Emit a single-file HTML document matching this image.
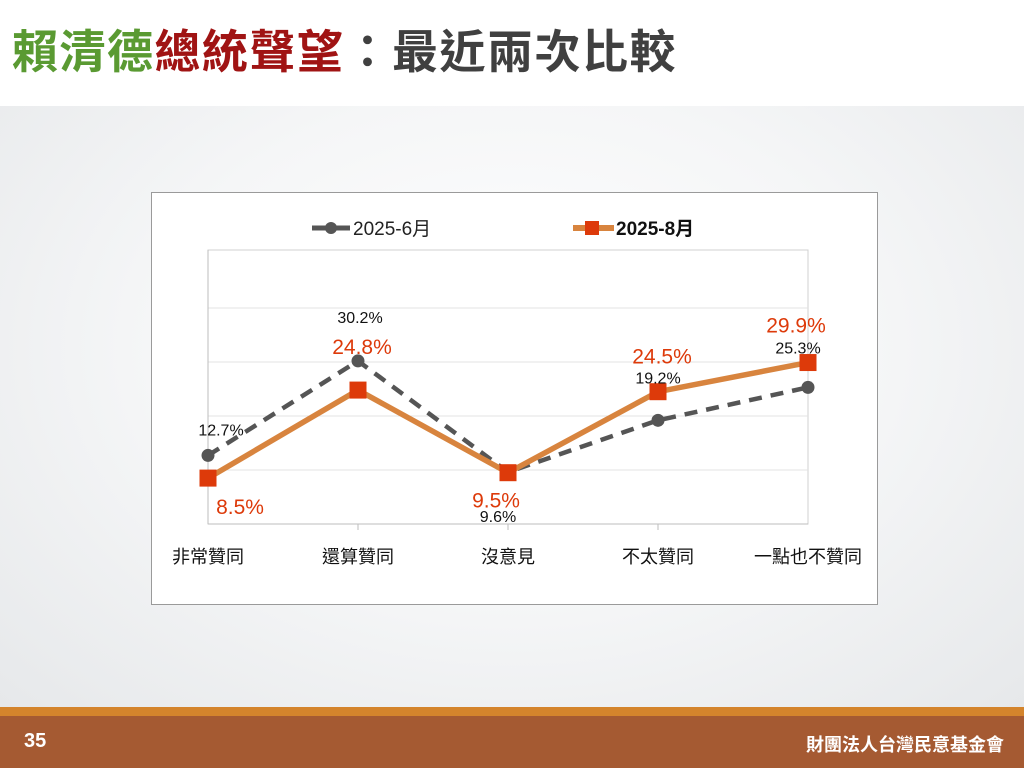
<!DOCTYPE html>
<html><head><meta charset="utf-8">
<style>
body{margin:0;width:1024px;height:768px;overflow:hidden;position:relative;background:#fff;font-family:"Liberation Sans","Noto Sans CJK TC",sans-serif}
#bg{position:absolute;left:0;top:106px;width:1024px;height:604px;background:radial-gradient(ellipse at 50% 40%,#ffffff 0%,#f5f6f7 50%,#e6e8ea 100%)}
#title{position:absolute;left:12px;top:22px;font-size:46px;font-weight:bold;letter-spacing:1.5px;white-space:nowrap;line-height:60px}
#foot1{position:absolute;left:0;top:707px;width:1024px;height:9px;background:#d4842c}
#foot2{position:absolute;left:0;top:716px;width:1024px;height:52px;background:#a55a32;color:#fff}
#chartbox{position:absolute;left:151px;top:192px;width:725px;height:411px;background:#fff;border:1px solid #9a9a9a}
</style></head><body>
<div id="bg"></div>
<div id="title"><span style="color:#5a9a32">賴清德</span><span style="color:#a01414">總統聲望</span><span style="color:#404040">：最近兩次比較</span></div>
<div id="chartbox"></div>
<svg id="chart" width="1024" height="768" style="position:absolute;left:0;top:0"></svg>
<div id="foot1"></div>
<div id="foot2">
<div style="position:absolute;left:24px;top:14px;font-size:20px;font-weight:bold">35</div>
<div style="position:absolute;right:20px;top:15px;font-size:18px;font-weight:bold">財團法人台灣民意基金會</div>
</div>
<script>
const categories=["非常贊同","還算贊同","沒意見","不太贊同","一點也不贊同"];
const june=[12.7,30.2,9.6,19.2,25.3];
const aug=[8.5,24.8,9.5,24.5,29.9];
const gridVals=[10,20,30,40];
const NS="http://www.w3.org/2000/svg";
const svg=document.getElementById('chart');
const L=208,R=808,T=254,B=524,MAX=50;
const x=i=>L+i*(R-L)/(categories.length-1);
const y=v=>B-v*(B-T)/MAX;
function mk(tag,attrs,parent){const e=document.createElementNS(NS,tag);for(const k in attrs)e.setAttribute(k,attrs[k]);(parent||svg).appendChild(e);return e;}
const pa=mk('rect',{x:L,y:250,width:R-L,height:B-250,fill:'#fff',stroke:'#d0d0d0','stroke-width':1});


gridVals.forEach(v=>{const g=mk('line',{x1:L,x2:R,y1:y(v),y2:y(v),stroke:'#e3e3e3','stroke-width':1});

});
const ax=mk('line',{x1:L,x2:R,y1:B,y2:B,stroke:'#bdbdbd','stroke-width':1});


const ay=mk('line',{x1:L,x2:L,y1:250,y2:B,stroke:'#bdbdbd','stroke-width':1});


categories.forEach((c,i)=>{
 if(i>0&&i<categories.length-1){const t=mk('line',{x1:x(i),x2:x(i),y1:B,y2:B+6,stroke:'#bdbdbd'});
 
 }
 const tx=mk('text',{x:x(i),y:563,'text-anchor':'middle','font-size':18,fill:'#111'});tx.textContent=c;
 
 
});
const pj=mk('polyline',{points:june.map((v,i)=>x(i)+','+y(v)).join(' '),fill:'none',stroke:'#555','stroke-width':4.5,'stroke-dasharray':'13,9'});


june.forEach((v,i)=>{const c=mk('circle',{cx:x(i),cy:y(v),r:6.5,fill:'#555'});

});
const pg=mk('polyline',{points:aug.map((v,i)=>x(i)+','+y(v)).join(' '),fill:'none',stroke:'#d8843e','stroke-width':5.5});


aug.forEach((v,i)=>{const r=mk('rect',{x:x(i)-8.5,y:y(v)-8.5,width:17,height:17,fill:'#dd3a0a'});

});
const jOff=[[13,-26],[2,-44],[-10,44],[0,-43],[-10,-40]];
const aOff=[[32,29],[4,-43],[-12,28],[4,-35],[-12,-37]];
june.forEach((v,i)=>{const t=mk('text',{x:x(i)+jOff[i][0],y:y(v)+jOff[i][1]+6,'text-anchor':'middle','font-size':16,fill:'#111'});t.textContent=v.toFixed(1)+'%';

});
aug.forEach((v,i)=>{const t=mk('text',{x:x(i)+aOff[i][0],y:y(v)+aOff[i][1]+7,'text-anchor':'middle','font-size':21,fill:'#dd3a0a'});t.textContent=v.toFixed(1)+'%';

});
const lg=mk('g',{});


mk('line',{x1:312,x2:350,y1:228,y2:228,stroke:'#555','stroke-width':5},lg);
mk('circle',{cx:331,cy:228,r:6,fill:'#555'},lg);
const l1=mk('text',{x:353,y:235,'font-size':19,fill:'#222'},lg);l1.textContent='2025-6月';


mk('line',{x1:573,x2:614,y1:228,y2:228,stroke:'#d8843e','stroke-width':6},lg);
mk('rect',{x:585,y:221,width:14,height:14,fill:'#dd3a0a'},lg);
const l2=mk('text',{x:616,y:235,'font-size':19,'font-weight':'bold',fill:'#111'},lg);l2.textContent='2025-8月';


</script>
</body></html>
